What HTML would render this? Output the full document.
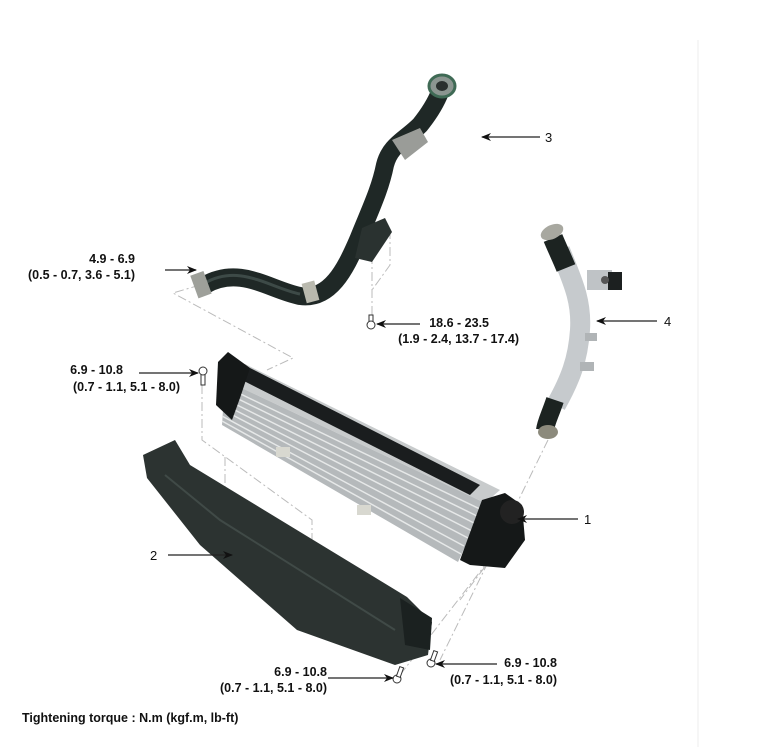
<!DOCTYPE html>
<html><head><meta charset="utf-8"><style>
html,body{margin:0;padding:0;background:#fff}
svg{display:block}
text{font-family:"Liberation Sans",Arial,sans-serif;font-size:12.5px;font-weight:bold;fill:#111}
.n{font-weight:normal;font-size:13px}
.d{stroke:#bbb;stroke-width:1;fill:none;stroke-dasharray:9,3,2,3}
.a{stroke:#222;stroke-width:1.2;fill:none}
</style></head><body>
<svg width="775" height="747" viewBox="0 0 775 747" xmlns="http://www.w3.org/2000/svg">
<defs><marker id="ar" markerWidth="10" markerHeight="8" refX="9" refY="4" orient="auto" markerUnits="userSpaceOnUse"><path d="M0,0 L10,4 L0,8 L3,4 z" fill="#111"/></marker></defs>
<line x1="698" y1="40" x2="698" y2="747" stroke="#eee" stroke-width="1"/>

<!-- dashed leader lines -->
<path class="d" d="M200,285 L173,293 L293,358 L267,370"/>
<path class="d" d="M390,230 L390,265 L372,290 M372,255 L372,315"/>
<path class="d" d="M202,385 L202,440 L312,520 L312,572 M225,457 L225,505"/>
<path class="d" d="M548,440 L440,660 M520,520 L400,675 M505,540 L460,600"/>

<!-- hose 3 -->
<path d="M205,285 C240,265 270,290 300,296 C330,300 345,270 358,240 C370,210 380,190 385,165 C390,145 405,140 420,125 C428,115 435,105 440,92" stroke="#1f2826" stroke-width="18" fill="none" stroke-linecap="round"/>
<path d="M205,283 C240,263 270,288 300,294" stroke="#3d4a47" stroke-width="3" fill="none"/>
<rect x="304" y="282" width="13" height="20" fill="#b9b9ae" transform="rotate(-15 310 292)"/>
<rect x="194" y="273" width="14" height="24" fill="#9ea09a" transform="rotate(-20 200 285)"/>
<path d="M362,228 L385,218 L392,232 L372,262 L355,258 z" fill="#2a3230"/>
<path d="M392,140 L420,128 L428,142 L405,160 z" fill="#9a9c98"/>
<ellipse cx="442" cy="86" rx="13" ry="11" fill="#8b9590" stroke="#3f6a55" stroke-width="3"/>
<ellipse cx="442" cy="86" rx="6" ry="5" fill="#2a302e"/>

<!-- intercooler -->
<polygon points="225,380 245,364 500,490 485,503" fill="#c8cbcc"/>
<polygon points="238,378 250,368 480,485 470,495" fill="#1a1d1e"/>
<polygon points="225,380 485,503 458,562 222,425" fill="#b5b9bb"/>
<g stroke="#e6e8e8" stroke-width="1.5">
<line x1="224" y1="386" x2="482" y2="510"/><line x1="224" y1="392" x2="479" y2="517"/>
<line x1="223" y1="398" x2="476" y2="524"/><line x1="223" y1="404" x2="472" y2="531"/>
<line x1="223" y1="410" x2="468" y2="538"/><line x1="222" y1="416" x2="464" y2="546"/>
<line x1="222" y1="421" x2="461" y2="554"/></g>
<polygon points="218,362 228,352 250,368 240,398 232,420 216,405" fill="#151818"/>
<polygon points="482,500 505,493 522,505 525,540 505,568 470,565 460,560" fill="#151818"/>
<circle cx="512" cy="512" r="12" fill="#222"/>
<rect x="276" y="447" width="14" height="10" fill="#d8d8d0"/>
<rect x="357" y="505" width="14" height="10" fill="#d8d8d0"/>

<!-- deflector 2 -->
<path d="M143,455 L175,440 L190,465 L407,597 L432,622 L428,655 L395,665 L297,630 L200,545 L147,478 z" fill="#2c3331"/>
<path d="M165,475 L220,520 L395,630" stroke="#404a47" stroke-width="2" fill="none"/>
<polygon points="400,598 432,618 430,650 405,645" fill="#1b2120"/>

<!-- pipe 4 -->
<path d="M560,250 C572,280 582,300 580,330 C578,360 570,380 556,405" stroke="#c6cacd" stroke-width="20" fill="none"/>
<path d="M553,238 C558,250 562,258 566,268" stroke="#1c2321" stroke-width="20" fill="none"/>
<ellipse cx="552" cy="232" rx="12" ry="7" fill="#a8a8a0" transform="rotate(-25 552 232)"/>
<path d="M555,400 C550,415 546,422 545,430" stroke="#1c2321" stroke-width="18" fill="none"/>
<ellipse cx="548" cy="432" rx="10" ry="7" fill="#8c8a7c"/>
<rect x="587" y="270" width="25" height="20" fill="#bfc3c6"/>
<rect x="608" y="272" width="14" height="18" fill="#1c2020"/>
<circle cx="605" cy="280" r="4" fill="#555"/>
<rect x="585" y="333" width="12" height="8" fill="#b0b4b6"/>
<rect x="580" y="362" width="14" height="9" fill="#b0b4b6"/>

<!-- bolts -->
<g fill="#fff" stroke="#333" stroke-width="1">
<rect x="201" y="373" width="4" height="12"/><circle cx="203" cy="371" r="4"/>
<rect x="369" y="315" width="4" height="10"/><circle cx="371" cy="325" r="4"/>
<circle cx="397" cy="679" r="4"/><rect x="398" y="667" width="4" height="10" transform="rotate(20 400 672)"/>
<circle cx="431" cy="663" r="4"/><rect x="432" y="651" width="4" height="10" transform="rotate(20 434 656)"/>
</g>

<!-- arrows -->
<line class="a" x1="165" y1="270" x2="196" y2="270" marker-end="url(#ar)"/>
<line class="a" x1="540" y1="137" x2="482" y2="137" marker-end="url(#ar)"/>
<line class="a" x1="420" y1="324" x2="377" y2="324" marker-end="url(#ar)"/>
<line class="a" x1="657" y1="321" x2="597" y2="321" marker-end="url(#ar)"/>
<line class="a" x1="139" y1="373" x2="198" y2="373" marker-end="url(#ar)"/>
<line class="a" x1="578" y1="519" x2="518" y2="519" marker-end="url(#ar)"/>
<line class="a" x1="168" y1="555" x2="232" y2="555" marker-end="url(#ar)"/>
<line class="a" x1="328" y1="678" x2="393" y2="678" marker-end="url(#ar)"/>
<line class="a" x1="497" y1="664" x2="436" y2="664" marker-end="url(#ar)"/>

<!-- labels -->
<text x="135" y="263" text-anchor="end">4.9 - 6.9</text>
<text x="135" y="279" text-anchor="end">(0.5 - 0.7, 3.6 - 5.1)</text>
<text class="n" x="545" y="142">3</text>
<text x="489" y="327" text-anchor="end">18.6 - 23.5</text>
<text x="519" y="343" text-anchor="end">(1.9 - 2.4, 13.7 - 17.4)</text>
<text class="n" x="664" y="326">4</text>
<text x="123" y="374" text-anchor="end">6.9 - 10.8</text>
<text x="180" y="391" text-anchor="end">(0.7 - 1.1, 5.1 - 8.0)</text>
<text class="n" x="584" y="524">1</text>
<text class="n" x="150" y="560">2</text>
<text x="327" y="676" text-anchor="end">6.9 - 10.8</text>
<text x="327" y="692" text-anchor="end">(0.7 - 1.1, 5.1 - 8.0)</text>
<text x="557" y="667" text-anchor="end">6.9 - 10.8</text>
<text x="557" y="684" text-anchor="end">(0.7 - 1.1, 5.1 - 8.0)</text>
<text x="22" y="722">Tightening torque : N.m (kgf.m, lb-ft)</text>
</svg>
</body></html>
